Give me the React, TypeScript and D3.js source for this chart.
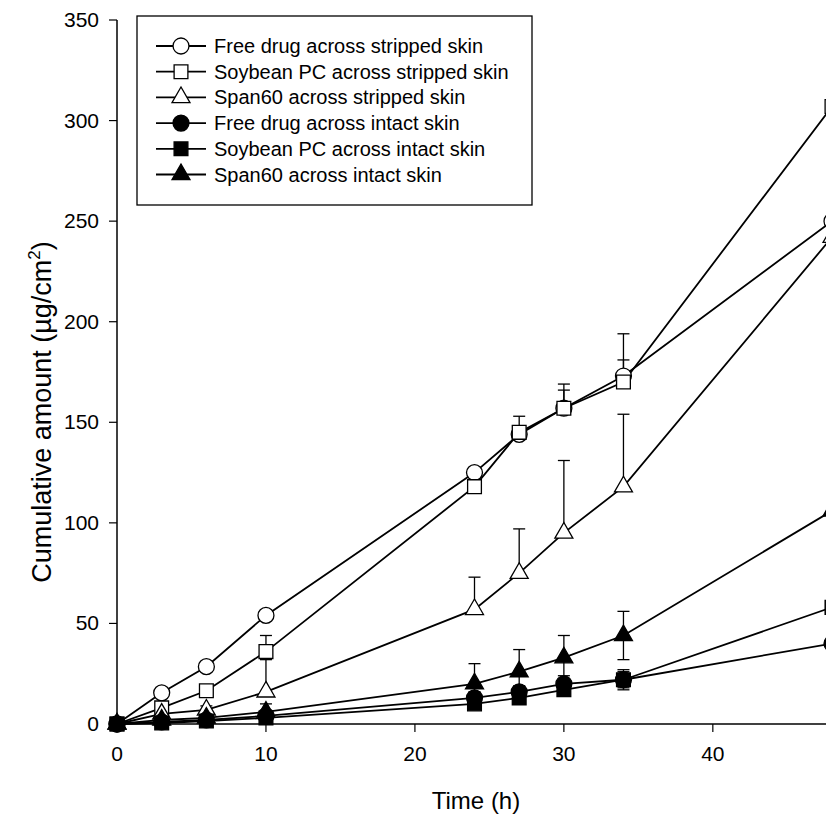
import React, { useEffect, useRef } from 'react';
import * as d3 from 'd3';

// sampling times (h)
const times = [0, 3, 6, 10, 24, 27, 30, 34, 48];

// cumulative amount (µg/cm2) and SD
const freeStripped = [0, 15.5, 28.5, 54, 125, 144, 157, 173, 250];
const freeStrippedErr = [0, 0, 0, 0, 0, 3, 12, 21, 47];
const soyStripped = [0, 8, 16.5, 36, 118, 145, 157, 170, 307];
const soyStrippedErr = [0, 1, 2, 8, 0, 8, 9, 11, 35];
const spanStripped = [0, 5, 7, 16, 57, 75, 95, 118, 242];
const spanStrippedErr = [0, 1, 2, 16, 16, 22, 36, 36, 23];
const freeIntact = [0, 1, 2, 4, 13, 16, 20, 22, 40];
const freeIntactErr = [0, 0.5, 1, 2, 3, 3, 4, 4, 10];
const soyIntact = [0, 0.5, 1.5, 3, 10, 13, 17, 22, 58];
const soyIntactErr = [0, 0.5, 1, 1.5, 2, 3, 3, 5, 19];
const spanIntact = [0, 2, 3, 6, 20, 26, 33, 44, 106];
const spanIntactErr = [0, 1, 1, 4, 10, 11, 11, 12, 31];

const xTicks = [0, 10, 20, 30, 40];
const yTicks = [0, 50, 100, 150, 200, 250, 300, 350];

const series = [
  { name: 'Free drug across stripped skin', values: freeStripped, err: freeStrippedErr, shape: 'circle', filled: false, both: false },
  { name: 'Soybean PC across stripped skin', values: soyStripped, err: soyStrippedErr, shape: 'square', filled: false, both: false },
  { name: 'Span60 across stripped skin', values: spanStripped, err: spanStrippedErr, shape: 'triangle', filled: false, both: false },
  { name: 'Free drug across intact skin', values: freeIntact, err: freeIntactErr, shape: 'circle', filled: true, both: true },
  { name: 'Soybean PC across intact skin', values: soyIntact, err: soyIntactErr, shape: 'square', filled: true, both: true },
  { name: 'Span60 across intact skin', values: spanIntact, err: spanIntactErr, shape: 'triangle', filled: true, both: true },
];

const FONT = 'Liberation Sans, Arial, sans-serif';

function symbolPath(shape: string) {
  if (shape === 'circle') return d3.symbol().type(d3.symbolCircle).size(200)();
  if (shape === 'square') return d3.symbol().type(d3.symbolSquare).size(190)();
  return d3.symbol().type(d3.symbolTriangle).size(140)();
}

function App() {
  const ref = useRef<SVGSVGElement | null>(null);

  useEffect(() => {
    const svg = d3.select(ref.current);
    svg.selectAll('*').remove();

    const x = d3.scaleLinear().domain([0, 48]).range([117, 832]);
    const y = d3.scaleLinear().domain([0, 350]).range([724, 20]);

    // axes
    svg.append('line')
      .attr('x1', x(0)).attr('x2', 826)
      .attr('y1', y(0)).attr('y2', y(0))
      .attr('stroke', '#000').attr('stroke-width', 1.5);
    svg.append('line')
      .attr('x1', x(0)).attr('x2', x(0))
      .attr('y1', y(0)).attr('y2', y(350))
      .attr('stroke', '#000').attr('stroke-width', 1.5);

    xTicks.forEach((t) => {
      svg.append('line')
        .attr('x1', x(t)).attr('x2', x(t))
        .attr('y1', y(0)).attr('y2', y(0) + 8)
        .attr('stroke', '#000').attr('stroke-width', 1.2);
      svg.append('text')
        .attr('x', x(t)).attr('y', 761)
        .attr('text-anchor', 'middle')
        .style('font-family', FONT).style('font-size', '21px')
        .text(t);
    });
    yTicks.forEach((t) => {
      svg.append('line')
        .attr('x1', x(0) - 8).attr('x2', x(0))
        .attr('y1', y(t)).attr('y2', y(t))
        .attr('stroke', '#000').attr('stroke-width', 1.2);
      svg.append('text')
        .attr('x', 99).attr('y', y(t) + 7)
        .attr('text-anchor', 'end')
        .style('font-family', FONT).style('font-size', '21px')
        .text(t);
    });

    svg.append('text')
      .attr('x', 476).attr('y', 809)
      .attr('text-anchor', 'middle')
      .style('font-family', FONT).style('font-size', '24px')
      .text('Time (h)');

    const yl = svg.append('text')
      .attr('transform', 'translate(51,412) rotate(-90)')
      .attr('text-anchor', 'middle')
      .style('font-family', FONT).style('font-size', '27px');
    yl.append('tspan').text('Cumulative amount (µg/cm');
    yl.append('tspan').attr('dy', -11).style('font-size', '17px').text('2');
    yl.append('tspan').attr('dy', 11).text(')');

    const line = d3.line<number>()
      .x((d, i) => x(times[i]))
      .y((d) => y(d));

    // lines
    series.forEach((s) => {
      svg.append('path')
        .datum(s.values)
        .attr('d', line)
        .attr('fill', 'none')
        .attr('stroke', '#000')
        .attr('stroke-width', 1.8);
    });

    // error bars
    series.forEach((s) => {
      s.values.forEach((v, i) => {
        const e = s.err[i];
        if (!e) return;
        const cx = x(times[i]);
        const top = y(v + e);
        const bot = s.both ? y(Math.max(0, v - e)) : y(v);
        const g = svg.append('g').attr('stroke', '#000').attr('stroke-width', 1.3);
        g.append('line').attr('x1', cx).attr('x2', cx).attr('y1', top).attr('y2', bot);
        g.append('line').attr('x1', cx - 6).attr('x2', cx + 6).attr('y1', top).attr('y2', top);
        if (s.both) {
          g.append('line').attr('x1', cx - 6).attr('x2', cx + 6).attr('y1', bot).attr('y2', bot);
        }
      });
    });

    // markers
    series.forEach((s) => {
      svg.append('g')
        .selectAll('path')
        .data(s.values)
        .enter()
        .append('path')
        .attr('d', symbolPath(s.shape))
        .attr('transform', (d, i) => `translate(${x(times[i])},${y(d)})`)
        .attr('fill', s.filled ? '#000' : '#fff')
        .attr('stroke', '#000')
        .attr('stroke-width', 1.3);
    });

    // legend
    const lg = svg.append('g');
    lg.append('rect')
      .attr('x', 137).attr('y', 16)
      .attr('width', 395).attr('height', 189)
      .attr('fill', '#fff').attr('stroke', '#000').attr('stroke-width', 1.3);
    series.forEach((s, i) => {
      const ry = 46 + i * 25.7;
      lg.append('line')
        .attr('x1', 156).attr('x2', 206)
        .attr('y1', ry).attr('y2', ry)
        .attr('stroke', '#000').attr('stroke-width', 1.8);
      lg.append('path')
        .attr('d', symbolPath(s.shape))
        .attr('transform', `translate(181,${ry})`)
        .attr('fill', s.filled ? '#000' : '#fff')
        .attr('stroke', '#000').attr('stroke-width', 1.3);
      lg.append('text')
        .attr('x', 214).attr('y', ry + 7)
        .style('font-family', FONT).style('font-size', '20px')
        .text(s.name);
    });
  }, []);

  return (
    <svg
      ref={ref}
      width={826}
      height={815}
      style={{ position: 'absolute', left: 0, top: 0, background: '#fff' }}
    />
  );
}

export default App;
